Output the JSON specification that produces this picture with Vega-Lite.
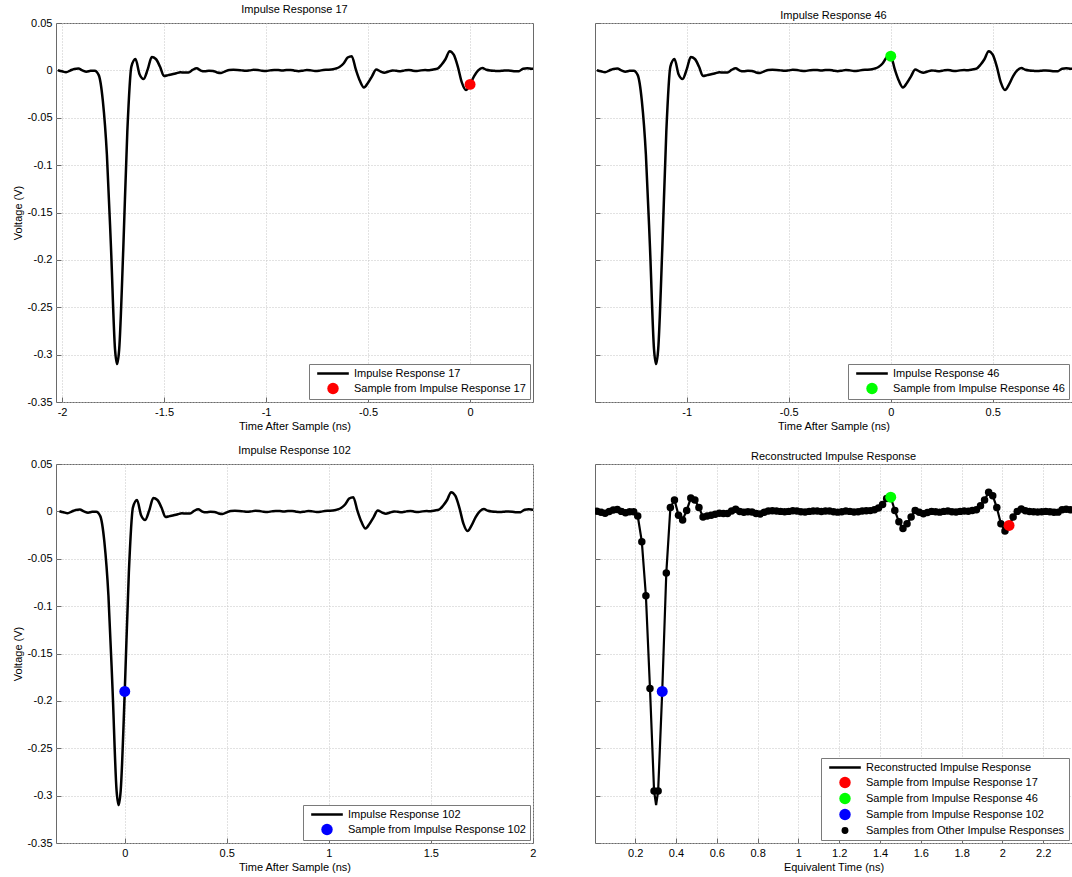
{
"$schema": "https://vega.github.io/schema/vega-lite/v6.json",
"background": "white",
"padding": {"left": 12, "top": 3, "right": 0, "bottom": 0},
"datasets": {"w": [
{"e":0.0125,"t17":-2.02,"t46":-1.44,"t102":-0.32,"v":0.0002,"smp":"o"},
{"e":0.0325,"t17":-2.00,"t46":-1.42,"t102":-0.30,"v":-0.001,"smp":"o"},
{"e":0.0525,"t17":-1.98,"t46":-1.40,"t102":-0.28,"v":-0.002,"smp":"o"},
{"e":0.0725,"t17":-1.96,"t46":-1.38,"t102":-0.26,"v":-0.0002,"smp":"o"},
{"e":0.0925,"t17":-1.94,"t46":-1.36,"t102":-0.24,"v":0.0015,"smp":"o"},
{"e":0.1125,"t17":-1.92,"t46":-1.34,"t102":-0.22,"v":0.0019,"smp":"o"},
{"e":0.1325,"t17":-1.90,"t46":-1.32,"t102":-0.20,"v":0.0,"smp":"o"},
{"e":0.1525,"t17":-1.88,"t46":-1.30,"t102":-0.18,"v":-0.0014,"smp":"o"},
{"e":0.1725,"t17":-1.86,"t46":-1.28,"t102":-0.16,"v":-0.0005,"smp":"o"},
{"e":0.1925,"t17":-1.84,"t46":-1.26,"t102":-0.14,"v":-0.0003,"smp":"o"},
{"e":0.2125,"t17":-1.82,"t46":-1.24,"t102":-0.12,"v":-0.005,"smp":"o"},
{"e":0.2325,"t17":-1.80,"t46":-1.22,"t102":-0.10,"v":-0.032,"smp":"o"},
{"e":0.2525,"t17":-1.78,"t46":-1.20,"t102":-0.08,"v":-0.089,"smp":"o"},
{"e":0.2725,"t17":-1.76,"t46":-1.18,"t102":-0.06,"v":-0.187,"smp":"o"},
{"e":0.2925,"t17":-1.74,"t46":-1.16,"t102":-0.04,"v":-0.295,"smp":"o"},
{"e":0.3025,"t17":-1.73,"t46":-1.15,"t102":-0.03,"v":-0.31,"smp":"n"},
{"e":0.3125,"t17":-1.72,"t46":-1.14,"t102":-0.02,"v":-0.295,"smp":"o"},
{"e":0.3325,"t17":-1.70,"t46":-1.12,"t102":0.00,"v":-0.19,"smp":"b"},
{"e":0.3525,"t17":-1.68,"t46":-1.10,"t102":0.02,"v":-0.065,"smp":"o"},
{"e":0.3725,"t17":-1.66,"t46":-1.08,"t102":0.04,"v":0.004,"smp":"o"},
{"e":0.3925,"t17":-1.64,"t46":-1.06,"t102":0.06,"v":0.012,"smp":"o"},
{"e":0.4125,"t17":-1.62,"t46":-1.04,"t102":0.08,"v":-0.004,"smp":"o"},
{"e":0.4325,"t17":-1.60,"t46":-1.02,"t102":0.10,"v":-0.009,"smp":"o"},
{"e":0.4525,"t17":-1.58,"t46":-1.00,"t102":0.12,"v":0.001,"smp":"o"},
{"e":0.4725,"t17":-1.56,"t46":-0.98,"t102":0.14,"v":0.014,"smp":"o"},
{"e":0.4925,"t17":-1.54,"t46":-0.96,"t102":0.16,"v":0.012,"smp":"o"},
{"e":0.5125,"t17":-1.52,"t46":-0.94,"t102":0.18,"v":0.004,"smp":"o"},
{"e":0.5325,"t17":-1.50,"t46":-0.92,"t102":0.20,"v":-0.006,"smp":"o"},
{"e":0.5525,"t17":-1.48,"t46":-0.90,"t102":0.22,"v":-0.005,"smp":"o"},
{"e":0.5725,"t17":-1.46,"t46":-0.88,"t102":0.24,"v":-0.0041,"smp":"o"},
{"e":0.5925,"t17":-1.44,"t46":-0.86,"t102":0.26,"v":-0.003,"smp":"o"},
{"e":0.6125,"t17":-1.42,"t46":-0.84,"t102":0.28,"v":-0.002,"smp":"o"},
{"e":0.6325,"t17":-1.40,"t46":-0.82,"t102":0.30,"v":-0.0023,"smp":"o"},
{"e":0.6525,"t17":-1.38,"t46":-0.80,"t102":0.32,"v":-0.0023,"smp":"o"},
{"e":0.6725,"t17":-1.36,"t46":-0.78,"t102":0.34,"v":0.0005,"smp":"o"},
{"e":0.6925,"t17":-1.34,"t46":-0.76,"t102":0.36,"v":0.0022,"smp":"o"},
{"e":0.7125,"t17":-1.32,"t46":-0.74,"t102":0.38,"v":-0.0002,"smp":"o"},
{"e":0.7325,"t17":-1.30,"t46":-0.72,"t102":0.40,"v":-0.001,"smp":"o"},
{"e":0.7525,"t17":-1.28,"t46":-0.70,"t102":0.42,"v":-0.0003,"smp":"o"},
{"e":0.7725,"t17":-1.26,"t46":-0.68,"t102":0.44,"v":-0.0006,"smp":"o"},
{"e":0.7925,"t17":-1.24,"t46":-0.66,"t102":0.46,"v":-0.0022,"smp":"o"},
{"e":0.8125,"t17":-1.22,"t46":-0.64,"t102":0.48,"v":-0.0027,"smp":"o"},
{"e":0.8325,"t17":-1.20,"t46":-0.62,"t102":0.50,"v":-0.001,"smp":"o"},
{"e":0.8525,"t17":-1.18,"t46":-0.60,"t102":0.52,"v":0.0004,"smp":"o"},
{"e":0.8725,"t17":-1.16,"t46":-0.58,"t102":0.54,"v":0.0006,"smp":"o"},
{"e":0.8925,"t17":-1.14,"t46":-0.56,"t102":0.56,"v":0.0004,"smp":"o"},
{"e":0.9125,"t17":-1.12,"t46":-0.54,"t102":0.58,"v":0.0,"smp":"o"},
{"e":0.9325,"t17":-1.10,"t46":-0.52,"t102":0.60,"v":-0.0004,"smp":"o"},
{"e":0.9525,"t17":-1.08,"t46":-0.50,"t102":0.62,"v":0.0,"smp":"o"},
{"e":0.9725,"t17":-1.06,"t46":-0.48,"t102":0.64,"v":0.0006,"smp":"o"},
{"e":0.9925,"t17":-1.04,"t46":-0.46,"t102":0.66,"v":0.0003,"smp":"o"},
{"e":1.0125,"t17":-1.02,"t46":-0.44,"t102":0.68,"v":-0.0003,"smp":"o"},
{"e":1.0325,"t17":-1.00,"t46":-0.42,"t102":0.70,"v":-0.0006,"smp":"o"},
{"e":1.0525,"t17":-0.98,"t46":-0.40,"t102":0.72,"v":0.0,"smp":"o"},
{"e":1.0725,"t17":-0.96,"t46":-0.38,"t102":0.74,"v":0.0005,"smp":"o"},
{"e":1.0925,"t17":-0.94,"t46":-0.36,"t102":0.76,"v":0.0003,"smp":"o"},
{"e":1.1125,"t17":-0.92,"t46":-0.34,"t102":0.78,"v":-0.0002,"smp":"o"},
{"e":1.1325,"t17":-0.90,"t46":-0.32,"t102":0.80,"v":0.0004,"smp":"o"},
{"e":1.1525,"t17":-0.88,"t46":-0.30,"t102":0.82,"v":0.0005,"smp":"o"},
{"e":1.1725,"t17":-0.86,"t46":-0.28,"t102":0.84,"v":-0.0003,"smp":"o"},
{"e":1.1925,"t17":-0.84,"t46":-0.26,"t102":0.86,"v":-0.0008,"smp":"o"},
{"e":1.2125,"t17":-0.82,"t46":-0.24,"t102":0.88,"v":-0.0003,"smp":"o"},
{"e":1.2325,"t17":-0.80,"t46":-0.22,"t102":0.90,"v":0.0004,"smp":"o"},
{"e":1.2525,"t17":-0.78,"t46":-0.20,"t102":0.92,"v":0.0,"smp":"o"},
{"e":1.2725,"t17":-0.76,"t46":-0.18,"t102":0.94,"v":-0.0006,"smp":"o"},
{"e":1.2925,"t17":-0.74,"t46":-0.16,"t102":0.96,"v":-0.0004,"smp":"o"},
{"e":1.3125,"t17":-0.72,"t46":-0.14,"t102":0.98,"v":0.0004,"smp":"o"},
{"e":1.3325,"t17":-0.70,"t46":-0.12,"t102":1.00,"v":0.0006,"smp":"o"},
{"e":1.3525,"t17":-0.68,"t46":-0.10,"t102":1.02,"v":0.0008,"smp":"o"},
{"e":1.3725,"t17":-0.66,"t46":-0.08,"t102":1.04,"v":0.0018,"smp":"o"},
{"e":1.3925,"t17":-0.64,"t46":-0.06,"t102":1.06,"v":0.0035,"smp":"o"},
{"e":1.4125,"t17":-0.62,"t46":-0.04,"t102":1.08,"v":0.0072,"smp":"o"},
{"e":1.4325,"t17":-0.60,"t46":-0.02,"t102":1.10,"v":0.0135,"smp":"o"},
{"e":1.4525,"t17":-0.58,"t46":0.00,"t102":1.12,"v":0.015,"smp":"g"},
{"e":1.4725,"t17":-0.56,"t46":0.02,"t102":1.14,"v":0.001,"smp":"o"},
{"e":1.4925,"t17":-0.54,"t46":0.04,"t102":1.16,"v":-0.011,"smp":"o"},
{"e":1.5125,"t17":-0.52,"t46":0.06,"t102":1.18,"v":-0.018,"smp":"o"},
{"e":1.5325,"t17":-0.50,"t46":0.08,"t102":1.20,"v":-0.013,"smp":"o"},
{"e":1.5525,"t17":-0.48,"t46":0.10,"t102":1.22,"v":-0.006,"smp":"o"},
{"e":1.5725,"t17":-0.46,"t46":0.12,"t102":1.24,"v":0.001,"smp":"o"},
{"e":1.5925,"t17":-0.44,"t46":0.14,"t102":1.26,"v":-0.001,"smp":"o"},
{"e":1.6125,"t17":-0.42,"t46":0.16,"t102":1.28,"v":-0.0025,"smp":"o"},
{"e":1.6325,"t17":-0.40,"t46":0.18,"t102":1.30,"v":-0.0012,"smp":"o"},
{"e":1.6525,"t17":-0.38,"t46":0.20,"t102":1.32,"v":0.0,"smp":"o"},
{"e":1.6725,"t17":-0.36,"t46":0.22,"t102":1.34,"v":-0.0005,"smp":"o"},
{"e":1.6925,"t17":-0.34,"t46":0.24,"t102":1.36,"v":-0.0008,"smp":"o"},
{"e":1.7125,"t17":-0.32,"t46":0.26,"t102":1.38,"v":0.0,"smp":"o"},
{"e":1.7325,"t17":-0.30,"t46":0.28,"t102":1.40,"v":0.0005,"smp":"o"},
{"e":1.7525,"t17":-0.28,"t46":0.30,"t102":1.42,"v":-0.0003,"smp":"o"},
{"e":1.7725,"t17":-0.26,"t46":0.32,"t102":1.44,"v":-0.0006,"smp":"o"},
{"e":1.7925,"t17":-0.24,"t46":0.34,"t102":1.46,"v":0.0,"smp":"o"},
{"e":1.8125,"t17":-0.22,"t46":0.36,"t102":1.48,"v":0.0003,"smp":"o"},
{"e":1.8325,"t17":-0.20,"t46":0.38,"t102":1.50,"v":0.0002,"smp":"o"},
{"e":1.8525,"t17":-0.18,"t46":0.40,"t102":1.52,"v":0.0009,"smp":"o"},
{"e":1.8725,"t17":-0.16,"t46":0.42,"t102":1.54,"v":0.0018,"smp":"o"},
{"e":1.8925,"t17":-0.14,"t46":0.44,"t102":1.56,"v":0.006,"smp":"o"},
{"e":1.9125,"t17":-0.12,"t46":0.46,"t102":1.58,"v":0.012,"smp":"o"},
{"e":1.9325,"t17":-0.10,"t46":0.48,"t102":1.60,"v":0.0203,"smp":"o"},
{"e":1.9525,"t17":-0.08,"t46":0.50,"t102":1.62,"v":0.0165,"smp":"o"},
{"e":1.9725,"t17":-0.06,"t46":0.52,"t102":1.64,"v":0.004,"smp":"o"},
{"e":1.9925,"t17":-0.04,"t46":0.54,"t102":1.66,"v":-0.013,"smp":"o"},
{"e":2.0125,"t17":-0.02,"t46":0.56,"t102":1.68,"v":-0.0208,"smp":"o"},
{"e":2.0325,"t17":0.00,"t46":0.58,"t102":1.70,"v":-0.0148,"smp":"r"},
{"e":2.0525,"t17":0.02,"t46":0.60,"t102":1.72,"v":-0.006,"smp":"o"},
{"e":2.0725,"t17":0.04,"t46":0.62,"t102":1.74,"v":0.0,"smp":"o"},
{"e":2.0925,"t17":0.06,"t46":0.64,"t102":1.76,"v":0.0025,"smp":"o"},
{"e":2.1125,"t17":0.08,"t46":0.66,"t102":1.78,"v":0.0006,"smp":"o"},
{"e":2.1325,"t17":0.10,"t46":0.68,"t102":1.80,"v":-0.0002,"smp":"o"},
{"e":2.1525,"t17":0.12,"t46":0.70,"t102":1.82,"v":-0.0005,"smp":"o"},
{"e":2.1725,"t17":0.14,"t46":0.72,"t102":1.84,"v":-0.0007,"smp":"o"},
{"e":2.1925,"t17":0.16,"t46":0.74,"t102":1.86,"v":-0.0004,"smp":"o"},
{"e":2.2125,"t17":0.18,"t46":0.76,"t102":1.88,"v":0.0,"smp":"o"},
{"e":2.2325,"t17":0.20,"t46":0.78,"t102":1.90,"v":-0.0003,"smp":"o"},
{"e":2.2525,"t17":0.22,"t46":0.80,"t102":1.92,"v":-0.001,"smp":"o"},
{"e":2.2725,"t17":0.24,"t46":0.82,"t102":1.94,"v":-0.0008,"smp":"o"},
{"e":2.2925,"t17":0.26,"t46":0.84,"t102":1.96,"v":0.0018,"smp":"o"},
{"e":2.3125,"t17":0.28,"t46":0.86,"t102":1.98,"v":0.0023,"smp":"o"},
{"e":2.3325,"t17":0.30,"t46":0.88,"t102":2.00,"v":0.0018,"smp":"o"},
{"e":2.3525,"t17":0.32,"t46":0.90,"t102":2.02,"v":0.0014,"smp":"o"}
]},
"columns": 2,
"spacing": {"row": 62, "column": 62},
"bounds": "flush",
"resolve": {"scale": {"color": "independent"}, "legend": {"color": "independent"}},
"concat": [
{
 "width": 477, "height": 379,
 "title": "Impulse Response 17",
 "data": {"name": "w"},
 "layer": [
  {"mark": {"type": "line", "strokeWidth": 2.5, "clip": true, "interpolate": "monotone"},
   "encoding": {
    "x": {"field": "t17", "type": "quantitative", "scale": {"domain": [-2.0295, 0.3085], "nice": false, "zero": false}, "axis": {"values": [-2, -1.5, -1, -0.5, 0], "title": "Time After Sample (ns)", "format": "~g"}},
    "y": {"field": "v", "type": "quantitative", "scale": {"domain": [-0.35, 0.05], "nice": false, "zero": false}, "axis": {"values": [-0.35, -0.3, -0.25, -0.2, -0.15, -0.1, -0.05, 0, 0.05], "title": "Voltage (V)", "format": "~g"}},
    "color": {"datum": "Impulse Response 17", "type": "nominal",
     "scale": {"domain": ["Impulse Response 17", "Sample from Impulse Response 17"], "range": ["black", "#ff0000"]},
     "legend": {"title": null, "encode": {"symbols": {"update": {
       "shape": {"signal": "datum.value === 'Impulse Response 17' ? 'stroke' : 'circle'"},
       "size": {"signal": "datum.value === 'Impulse Response 17' ? 1000 : 130"},
       "strokeWidth": {"signal": "datum.value === 'Impulse Response 17' ? 2.5 : 0"},
       "opacity": {"value": 1}, "x": {"value": 20}}}}}}
   }},
  {"transform": [{"filter": "datum.smp === 'r'"}],
   "mark": {"type": "point", "filled": true, "size": 120, "opacity": 1},
   "encoding": {
    "x": {"field": "t17", "type": "quantitative"},
    "y": {"field": "v", "type": "quantitative"},
    "color": {"datum": "Sample from Impulse Response 17", "type": "nominal",
     "legend": {"title": null, "encode": {"symbols": {"update": {
       "shape": {"signal": "datum.value === 'Impulse Response 17' ? 'stroke' : 'circle'"},
       "size": {"signal": "datum.value === 'Impulse Response 17' ? 1000 : 130"},
       "strokeWidth": {"signal": "datum.value === 'Impulse Response 17' ? 2.5 : 0"},
       "opacity": {"value": 1}, "x": {"value": 20}}}}}}
   }}
 ]
},
{
 "width": 477, "height": 379,
 "title": "Impulse Response 46",
 "data": {"name": "w"},
 "layer": [
  {"mark": {"type": "line", "strokeWidth": 2.5, "clip": true, "interpolate": "monotone"},
   "encoding": {
    "x": {"field": "t46", "type": "quantitative", "scale": {"domain": [-1.4495, 0.8885], "nice": false, "zero": false}, "axis": {"values": [-1, -0.5, 0, 0.5], "title": "Time After Sample (ns)", "format": "~g"}},
    "y": {"field": "v", "type": "quantitative", "scale": {"domain": [-0.35, 0.05], "nice": false, "zero": false}, "axis": {"values": [-0.35, -0.3, -0.25, -0.2, -0.15, -0.1, -0.05, 0, 0.05], "title": null, "labels": false}},
    "color": {"datum": "Impulse Response 46", "type": "nominal",
     "scale": {"domain": ["Impulse Response 46", "Sample from Impulse Response 46"], "range": ["black", "#00ff00"]},
     "legend": {"title": null, "encode": {"symbols": {"update": {
       "shape": {"signal": "datum.value === 'Impulse Response 46' ? 'stroke' : 'circle'"},
       "size": {"signal": "datum.value === 'Impulse Response 46' ? 1000 : 130"},
       "strokeWidth": {"signal": "datum.value === 'Impulse Response 46' ? 2.5 : 0"},
       "opacity": {"value": 1}, "x": {"value": 20}}}}}}
   }},
  {"transform": [{"filter": "datum.smp === 'g'"}],
   "mark": {"type": "point", "filled": true, "size": 120, "opacity": 1},
   "encoding": {
    "x": {"field": "t46", "type": "quantitative"},
    "y": {"field": "v", "type": "quantitative"},
    "color": {"datum": "Sample from Impulse Response 46", "type": "nominal",
     "legend": {"title": null, "encode": {"symbols": {"update": {
       "shape": {"signal": "datum.value === 'Impulse Response 46' ? 'stroke' : 'circle'"},
       "size": {"signal": "datum.value === 'Impulse Response 46' ? 1000 : 130"},
       "strokeWidth": {"signal": "datum.value === 'Impulse Response 46' ? 2.5 : 0"},
       "opacity": {"value": 1}, "x": {"value": 20}}}}}}
   }}
 ]
},
{
 "width": 477, "height": 379,
 "title": "Impulse Response 102",
 "data": {"name": "w"},
 "layer": [
  {"mark": {"type": "line", "strokeWidth": 2.5, "clip": true, "interpolate": "monotone"},
   "encoding": {
    "x": {"field": "t102", "type": "quantitative", "scale": {"domain": [-0.337, 2.001], "nice": false, "zero": false}, "axis": {"values": [0, 0.5, 1, 1.5, 2], "title": "Time After Sample (ns)", "format": "~g"}},
    "y": {"field": "v", "type": "quantitative", "scale": {"domain": [-0.35, 0.05], "nice": false, "zero": false}, "axis": {"values": [-0.35, -0.3, -0.25, -0.2, -0.15, -0.1, -0.05, 0, 0.05], "title": "Voltage (V)", "format": "~g"}},
    "color": {"datum": "Impulse Response 102", "type": "nominal",
     "scale": {"domain": ["Impulse Response 102", "Sample from Impulse Response 102"], "range": ["black", "#0000ff"]},
     "legend": {"title": null, "encode": {"symbols": {"update": {
       "shape": {"signal": "datum.value === 'Impulse Response 102' ? 'stroke' : 'circle'"},
       "size": {"signal": "datum.value === 'Impulse Response 102' ? 1000 : 130"},
       "strokeWidth": {"signal": "datum.value === 'Impulse Response 102' ? 2.5 : 0"},
       "opacity": {"value": 1}, "x": {"value": 20}}}}}}
   }},
  {"transform": [{"filter": "datum.smp === 'b'"}],
   "mark": {"type": "point", "filled": true, "size": 120, "opacity": 1},
   "encoding": {
    "x": {"field": "t102", "type": "quantitative"},
    "y": {"field": "v", "type": "quantitative"},
    "color": {"datum": "Sample from Impulse Response 102", "type": "nominal",
     "legend": {"title": null, "encode": {"symbols": {"update": {
       "shape": {"signal": "datum.value === 'Impulse Response 102' ? 'stroke' : 'circle'"},
       "size": {"signal": "datum.value === 'Impulse Response 102' ? 1000 : 130"},
       "strokeWidth": {"signal": "datum.value === 'Impulse Response 102' ? 2.5 : 0"},
       "opacity": {"value": 1}, "x": {"value": 20}}}}}}
   }}
 ]
},
{
 "width": 477, "height": 379,
 "title": "Reconstructed Impulse Response",
 "data": {"name": "w"},
 "layer": [
  {"mark": {"type": "line", "strokeWidth": 2.2, "clip": true},
   "encoding": {
    "x": {"field": "e", "type": "quantitative", "scale": {"domain": [0.003, 2.341], "nice": false, "zero": false}, "axis": {"values": [0.2, 0.4, 0.6, 0.8, 1, 1.2, 1.4, 1.6, 1.8, 2, 2.2], "title": "Equivalent Time (ns)", "format": "~g"}},
    "y": {"field": "v", "type": "quantitative", "scale": {"domain": [-0.35, 0.05], "nice": false, "zero": false}, "axis": {"values": [-0.35, -0.3, -0.25, -0.2, -0.15, -0.1, -0.05, 0, 0.05], "title": null, "labels": false}},
    "color": {"datum": "Reconstructed Impulse Response", "type": "nominal",
     "scale": {"domain": ["Reconstructed Impulse Response", "Sample from Impulse Response 17", "Sample from Impulse Response 46", "Sample from Impulse Response 102", "Samples from Other Impulse Responses"], "range": ["black", "#ff0000", "#00ff00", "#0000ff", "black"]},
     "legend": {"title": null, "encode": {"symbols": {"update": {
       "shape": {"signal": "datum.value === 'Reconstructed Impulse Response' ? 'stroke' : 'circle'"},
       "size": {"signal": "datum.value === 'Reconstructed Impulse Response' ? 1000 : (datum.value === 'Samples from Other Impulse Responses' ? 48 : 130)"},
       "strokeWidth": {"signal": "datum.value === 'Reconstructed Impulse Response' ? 2.5 : 0"},
       "opacity": {"value": 1}, "x": {"value": 20}}}}}}
   }},
  {"transform": [{"filter": "datum.smp === 'o'"}],
   "mark": {"type": "point", "filled": true, "size": 56, "opacity": 1, "clip": true},
   "encoding": {
    "x": {"field": "e", "type": "quantitative"},
    "y": {"field": "v", "type": "quantitative"},
    "color": {"datum": "Samples from Other Impulse Responses", "type": "nominal",
     "legend": {"title": null, "encode": {"symbols": {"update": {
       "shape": {"signal": "datum.value === 'Reconstructed Impulse Response' ? 'stroke' : 'circle'"},
       "size": {"signal": "datum.value === 'Reconstructed Impulse Response' ? 1000 : (datum.value === 'Samples from Other Impulse Responses' ? 48 : 130)"},
       "strokeWidth": {"signal": "datum.value === 'Reconstructed Impulse Response' ? 2.5 : 0"},
       "opacity": {"value": 1}, "x": {"value": 20}}}}}}
   }},
  {"transform": [{"filter": "datum.smp === 'r'"}],
   "mark": {"type": "point", "filled": true, "size": 120, "opacity": 1},
   "encoding": {
    "x": {"field": "e", "type": "quantitative"},
    "y": {"field": "v", "type": "quantitative"},
    "color": {"datum": "Sample from Impulse Response 17", "type": "nominal",
     "legend": {"title": null, "encode": {"symbols": {"update": {
       "shape": {"signal": "datum.value === 'Reconstructed Impulse Response' ? 'stroke' : 'circle'"},
       "size": {"signal": "datum.value === 'Reconstructed Impulse Response' ? 1000 : (datum.value === 'Samples from Other Impulse Responses' ? 48 : 130)"},
       "strokeWidth": {"signal": "datum.value === 'Reconstructed Impulse Response' ? 2.5 : 0"},
       "opacity": {"value": 1}, "x": {"value": 20}}}}}}
   }},
  {"transform": [{"filter": "datum.smp === 'g'"}],
   "mark": {"type": "point", "filled": true, "size": 120, "opacity": 1},
   "encoding": {
    "x": {"field": "e", "type": "quantitative"},
    "y": {"field": "v", "type": "quantitative"},
    "color": {"datum": "Sample from Impulse Response 46", "type": "nominal",
     "legend": {"title": null, "encode": {"symbols": {"update": {
       "shape": {"signal": "datum.value === 'Reconstructed Impulse Response' ? 'stroke' : 'circle'"},
       "size": {"signal": "datum.value === 'Reconstructed Impulse Response' ? 1000 : (datum.value === 'Samples from Other Impulse Responses' ? 48 : 130)"},
       "strokeWidth": {"signal": "datum.value === 'Reconstructed Impulse Response' ? 2.5 : 0"},
       "opacity": {"value": 1}, "x": {"value": 20}}}}}}
   }},
  {"transform": [{"filter": "datum.smp === 'b'"}],
   "mark": {"type": "point", "filled": true, "size": 120, "opacity": 1},
   "encoding": {
    "x": {"field": "e", "type": "quantitative"},
    "y": {"field": "v", "type": "quantitative"},
    "color": {"datum": "Sample from Impulse Response 102", "type": "nominal",
     "legend": {"title": null, "encode": {"symbols": {"update": {
       "shape": {"signal": "datum.value === 'Reconstructed Impulse Response' ? 'stroke' : 'circle'"},
       "size": {"signal": "datum.value === 'Reconstructed Impulse Response' ? 1000 : (datum.value === 'Samples from Other Impulse Responses' ? 48 : 130)"},
       "strokeWidth": {"signal": "datum.value === 'Reconstructed Impulse Response' ? 2.5 : 0"},
       "opacity": {"value": 1}, "x": {"value": 20}}}}}}
   }}
 ]
}
],
"config": {
 "font": "Liberation Sans",
 "locale": {"number": {"decimal": ".", "thousands": ",", "grouping": [3], "currency": ["$", ""], "minus": "-"}},
 "view": {"stroke": "#6a6a6a", "strokeWidth": 1},
 "axis": {"domain": false, "ticks": true, "tickSize": -5, "tickColor": "#6a6a6a", "tickWidth": 1, "grid": true, "gridColor": "#c4c4c4", "gridDash": [1, 2], "gridWidth": 1,
  "labelFont": "Liberation Sans", "labelFontSize": 11, "labelColor": "black", "labelFlush": false, "labelOverlap": false, "labelPadding": 9,
  "titleFont": "Liberation Sans", "titleFontSize": 11, "titleFontWeight": "normal", "titleColor": "black", "titlePadding": 3},
 "title": {"font": "Liberation Sans", "fontSize": 11, "fontWeight": "normal", "color": "black", "offset": 2},
 "legend": {"orient": "bottom-right", "offset": 3, "padding": 4, "strokeColor": "#7a7a7a", "fillColor": "white", "labelFont": "Liberation Sans", "labelFontSize": 11, "labelColor": "black", "labelLimit": 300, "symbolSize": 120, "labelOffset": 30, "rowPadding": 3}
}
}
